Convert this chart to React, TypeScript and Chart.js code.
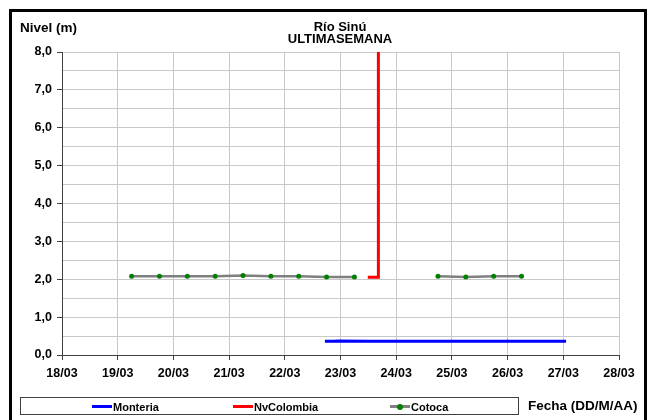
import React, { useEffect, useRef } from "react";
import { Chart, registerables } from "chart.js";

Chart.register(...registerables);

// Days of March shown on the x axis
const dayTicks = [18, 19, 20, 21, 22, 23, 24, 25, 26, 27, 28];
const monthText = "03";
const yTicks = [0, 1, 2, 3, 4, 5, 6, 7, 8];

// Monteria (blue)
const monteriaX = [22.72, 22.88, 22.95, 23.5, 24.0, 25.0, 25.95, 26.0, 26.05, 27.05];
const monteriaY = [0.36, 0.36, 0.37, 0.36, 0.36, 0.36, 0.36, 0.37, 0.36, 0.36];

// NvColombia (red)
const nvColombiaX = [23.49, 23.68, 23.68];
const nvColombiaY = [2.05, 2.05, 9.5];

// Cotoca (grey line, green points)
const cotocaX = [19.25, 19.75, 20.25, 20.75, 21.25, 21.75, 22.25, 22.75, 23.25, 24.0, 24.75, 25.25, 25.75, 26.25];
const cotocaY = [2.08, 2.08, 2.08, 2.08, 2.1, 2.08, 2.08, 2.06, 2.06, null, 2.08, 2.06, 2.08, 2.08];

const FONT = "'Liberation Sans', Arial, sans-serif";

function pts(xs: number[], ys: (number | null)[]) {
  return xs.map((x, i) => ({ x, y: ys[i] }));
}

export default function App() {
  const ref = useRef<HTMLCanvasElement | null>(null);

  useEffect(() => {
    if (!ref.current) return;
    const chart = new Chart(ref.current, {
      type: "line",
      data: {
        datasets: [
          {
            label: "Monteria",
            data: pts(monteriaX, monteriaY),
            borderColor: "#0000ff",
            backgroundColor: "#0000ff",
            borderWidth: 3,
            pointRadius: 0,
            tension: 0,
          },
          {
            label: "NvColombia",
            data: pts(nvColombiaX, nvColombiaY),
            borderColor: "#ff0000",
            backgroundColor: "#ff0000",
            borderWidth: 3,
            pointRadius: 0,
            tension: 0,
          },
          {
            label: "Cotoca",
            data: pts(cotocaX, cotocaY),
            borderColor: "#808080",
            backgroundColor: "#008000",
            borderWidth: 2.5,
            pointRadius: 2.5,
            pointBorderWidth: 0,
            pointBackgroundColor: "#008000",
            pointBorderColor: "#008000",
            spanGaps: false,
            tension: 0,
          },
        ],
      },
      options: {
        animation: false,
        responsive: false,
        devicePixelRatio: 1,
        layout: { padding: { left: 0, right: 29, top: 52, bottom: 0 } },
        plugins: {
          legend: { display: false },
          tooltip: { enabled: false },
          title: { display: false },
        },
        scales: {
          x: {
            type: "linear",
            min: dayTicks[0],
            max: dayTicks[dayTicks.length - 1],
            afterBuildTicks: (s: any) => {
              s.ticks = dayTicks.map((v) => ({ value: v }));
            },
            afterFit: (s: any) => {
              s.height = 65;
            },
            ticks: {
              autoSkip: false,
              maxRotation: 0,
              padding: 6,
              color: "#000",
              font: { family: FONT, size: 12.5, weight: "bold" },
              callback: (v: any) => `${v}/${monthText}`,
            },
            grid: { color: "#c8c8c8", lineWidth: 1, tickLength: 5, tickColor: "#404040" },
            border: { color: "#404040", width: 1 },
          },
          y: {
            min: 0,
            max: 8,
            afterBuildTicks: (s: any) => {
              const t: any[] = [];
              yTicks.forEach((v, i) => {
                t.push({ value: v });
                if (i < yTicks.length - 1) t.push({ value: v + 0.5 });
              });
              s.ticks = t;
            },
            afterFit: (s: any) => {
              s.width = 62;
            },
            ticks: {
              autoSkip: false,
              padding: 5,
              color: "#000",
              font: { family: FONT, size: 12.5, weight: "bold" },
              callback: (v: any) =>
                Number.isInteger(v) ? Number(v).toFixed(1).replace(".", ",") : "",
            },
            grid: {
              color: "#c8c8c8",
              lineWidth: 1,
              tickLength: 5,
              tickColor: (ctx: any) =>
                ctx.tick && Number.isInteger(ctx.tick.value) ? "#404040" : "rgba(0,0,0,0)",
            },
            border: { color: "#404040", width: 1 },
          },
        },
      },
    } as any);
    return () => chart.destroy();
  }, []);

  const bold: React.CSSProperties = {
    position: "absolute",
    fontFamily: FONT,
    fontWeight: "bold",
    color: "#000",
    whiteSpace: "nowrap",
    lineHeight: 1,
  };

  const legendItem = (label: string, color: string, left: number, dot?: boolean) => (
    <div style={{ position: "absolute", left, top: 0, height: 17, display: "flex", alignItems: "center" }}>
      <div style={{ position: "relative", width: 20, height: 3, background: color }}>
        {dot && (
          <div
            style={{
              position: "absolute",
              left: 7,
              top: -1.5,
              width: 6,
              height: 6,
              borderRadius: 3,
              background: "#008000",
            }}
          />
        )}
      </div>
      <span style={{ fontFamily: FONT, fontWeight: "bold", fontSize: 11, marginLeft: 1 }}>{label}</span>
    </div>
  );

  return (
    <div
      style={{
        position: "fixed",
        left: 0,
        top: 0,
        width: 648,
        height: 420,
        overflow: "hidden",
        background: "#fff",
      }}
    >
      <canvas ref={ref} width={648} height={420} style={{ position: "absolute", left: 0, top: 0 }} />
      <div
        style={{
          position: "absolute",
          left: 9,
          top: 9,
          width: 638,
          height: 440,
          border: "3px solid #000",
          boxSizing: "border-box",
        }}
      />
      <div style={{ ...bold, left: 20, top: 21, fontSize: 13.5 }}>Nivel (m)</div>
      <div
        style={{
          ...bold,
          left: 280,
          width: 120,
          top: 21,
          fontSize: 13,
          textAlign: "center",
          lineHeight: "12px",
        }}
      >
        Río Sinú
        <br />
        ULTIMASEMANA
      </div>
      <div
        style={{
          position: "absolute",
          left: 20,
          top: 397,
          width: 499,
          height: 18,
          border: "1px solid #404040",
          boxSizing: "border-box",
        }}
      >
        {legendItem("Monteria", "#0000ff", 71)}
        {legendItem("NvColombia", "#ff0000", 212)}
        {legendItem("Cotoca", "#808080", 369, true)}
      </div>
      <div style={{ ...bold, left: 528, top: 399, fontSize: 13.5 }}>Fecha (DD/M/AA)</div>
    </div>
  );
}
